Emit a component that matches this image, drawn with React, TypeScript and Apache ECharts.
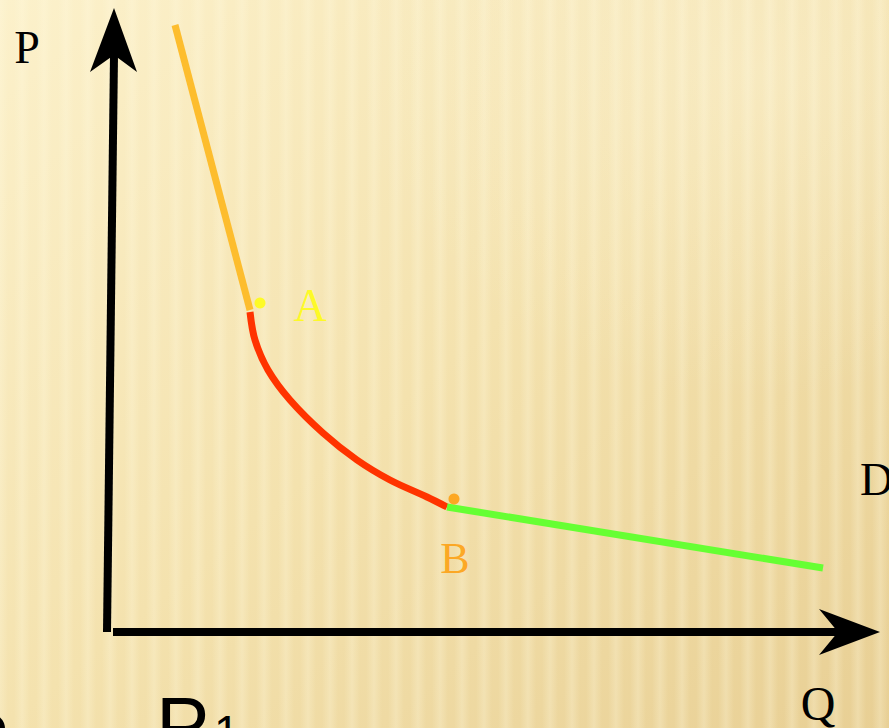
import React, { useEffect, useRef } from "react";
import * as echarts from "echarts";

// Demand curve D in (Q, P) units; origin at the axes corner
const elasticPart: number[][] = [[68, 606], [143, 321]];
const unitPart: number[][] = [
  [143, 319], [148, 291], [161, 261], [183, 231], [216, 198],
  [250, 171], [283, 151], [320, 134], [340, 124],
];
const inelasticPart: number[][] = [[340, 124], [716, 63]];
const pointA: number[] = [153, 328];
const pointB: number[] = [347, 132];
const pAxis: number[][] = [[0, -1], [7, 576]];
const qAxis: number[][] = [[6, -1], [733, -1]];

const W = 889;
const H = 728;

export default function App() {
  const ref = useRef<HTMLDivElement>(null);
  useEffect(() => {
    if (!ref.current) return;
    const chart = echarts.init(ref.current, null, { renderer: "svg" });
    const serif = "'Liberation Serif', 'Times New Roman', serif";
    const sans = "'Liberation Sans', Arial, sans-serif";
    const stripes: any[] = [];
    for (let x = -8; x < W; x += 22) {
      stripes.push({
        type: "rect",
        shape: { x, y: 0, width: 16, height: H },
        silent: true,
        z: -10,
        style: {
          fill: new echarts.graphic.LinearGradient(0, 0, 1, 0, [
            { offset: 0, color: "rgba(255,250,225,0)" },
            { offset: 0.5, color: "rgba(255,250,225,0.28)" },
            { offset: 1, color: "rgba(255,250,225,0)" },
          ]),
        },
      });
    }
    const option: any = {
      animation: false,
      backgroundColor: new echarts.graphic.LinearGradient(0, 0, 1, 1, [
        { offset: 0, color: "#fcf1cb" },
        { offset: 0.5, color: "#f4e2ae" },
        { offset: 1, color: "#e8cf94" },
      ]),
      grid: { left: 0, right: 0, top: 0, bottom: 0 },
      xAxis: { type: "value", min: -107, max: 782, show: false },
      yAxis: { type: "value", min: -97, max: 631, show: false },
      graphic: [
        ...stripes,
        {
          type: "rect",
          shape: { x: 0, y: 0, width: W, height: H },
          silent: true,
          z: -9,
          style: {
            fill: new echarts.graphic.RadialGradient(0.85, 0.1, 0.45, [
              { offset: 0, color: "rgba(255,250,230,0.3)" },
              { offset: 1, color: "rgba(255,250,230,0)" },
            ]),
          },
        },
        {
          type: "polygon",
          shape: { points: [[114, 8], [137, 72], [114, 55], [90, 72]] },
          style: { fill: "#000" },
          z: 10,
        },
        {
          type: "polygon",
          shape: { points: [[880, 632], [819, 655], [838, 632], [819, 609]] },
          style: { fill: "#000" },
          z: 10,
        },
        { type: "text", x: 27, y: 47, style: { text: "P", font: `46px ${serif}`, fill: "#000", align: "center", verticalAlign: "middle" } },
        { type: "text", x: 818, y: 703, style: { text: "Q", font: `48px ${serif}`, fill: "#000", align: "center", verticalAlign: "middle" } },
        { type: "text", x: 860, y: 479, style: { text: "D", font: `46px ${serif}`, fill: "#000", align: "left", verticalAlign: "middle" } },
        { type: "text", x: 156, y: 685, style: { text: "P", font: `80px ${sans}`, fill: "#000", align: "left", verticalAlign: "top" } },
        { type: "text", x: 214, y: 709, style: { text: "1", font: `46px ${sans}`, fill: "#000", align: "left", verticalAlign: "top" } },
        { type: "text", x: -44, y: 700, style: { text: "P", font: `80px ${sans}`, fill: "#000", align: "left", verticalAlign: "top" } },
      ],
      series: [
        { type: "line", data: pAxis, symbol: "none", lineStyle: { color: "#000", width: 8 }, z: 5, silent: true },
        { type: "line", data: qAxis, symbol: "none", lineStyle: { color: "#000", width: 8 }, z: 5, silent: true },
        { type: "line", data: elasticPart, symbol: "none", lineStyle: { color: "#fdbd2e", width: 7 }, z: 6 },
        { type: "line", data: unitPart, symbol: "none", smooth: 0.35, lineStyle: { color: "#ff3300", width: 7 }, z: 6 },
        { type: "line", data: inelasticPart, symbol: "none", lineStyle: { color: "#66ff33", width: 7 }, z: 6 },
        {
          type: "scatter", data: [pointA], symbolSize: 11, itemStyle: { color: "#ffff00" }, z: 7,
          label: { show: true, formatter: "A", position: "inside", offset: [50, 2], color: "#ffff00", fontSize: 46, fontFamily: serif },
        },
        {
          type: "scatter", data: [pointB], symbolSize: 11, itemStyle: { color: "#ff9900" }, z: 7,
          label: { show: true, formatter: "B", position: "inside", offset: [1, 59], color: "#ff9900", fontSize: 44, fontFamily: serif },
        },
      ],
    };
    chart.setOption(option);
    return () => chart.dispose();
  }, []);
  return <div ref={ref} style={{ position: "fixed", left: 0, top: 0, width: W, height: H }} />;
}
